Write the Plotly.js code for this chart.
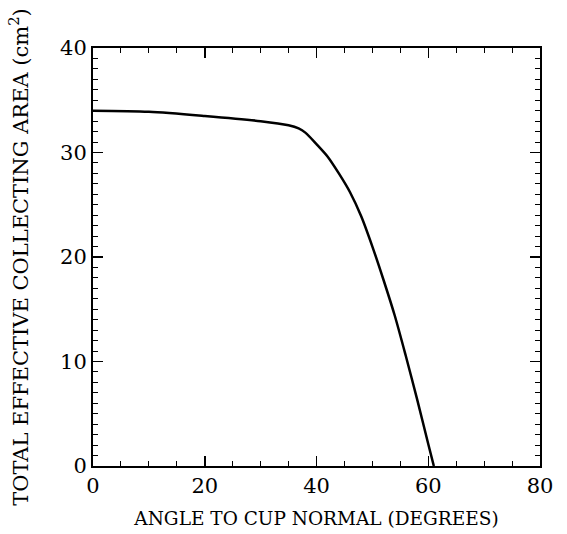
<!DOCTYPE html>
<html>
<head>
<meta charset="utf-8">
<script src="https://cdn.plot.ly/plotly-3.0.1.min.js"></script>
<style>html,body{margin:0;padding:0;background:#fff;}#chart{width:567px;height:534px;}</style>
</head>
<body>
<div id="chart"></div>
<script>
const angleDeg = [0, 10, 20, 30, 35, 36.8, 38, 40, 42, 44, 46, 48, 50, 52, 54, 56, 58, 60, 61.0];
const areaCm2  = [34.0, 33.9, 33.5, 33.0, 32.6, 32.3, 31.9, 30.8, 29.6, 28.0, 26.2, 23.9, 21.0, 17.8, 14.4, 10.5, 6.4, 2.1, 0.0];
const xTickVals = [0, 20, 40, 60, 80];
const yTickVals = [0, 10, 20, 30, 40];
const xTitle = 'ANGLE TO CUP NORMAL (DEGREES)';
const yTitle = 'TOTAL EFFECTIVE COLLECTING AREA (cm<sup>2</sup>)';

const font = 'DejaVu Serif, Liberation Serif, serif';
const axisCommon = {
  showgrid: false, zeroline: false, showline: true, linecolor: '#000', linewidth: 2,
  mirror: 'allticks', ticks: 'inside', ticklen: 10, tickwidth: 1.5, tickcolor: '#000',
  tickfont: {family: font, size: 21, color: '#000'}, fixedrange: true
};
Plotly.newPlot('chart', [{
  x: angleDeg, y: areaCm2, type: 'scatter', mode: 'lines',
  line: {color: '#000', width: 2.5, shape: 'spline', smoothing: 0.8},
  hoverinfo: 'skip'
}], {
  width: 567, height: 534,
  margin: {l: 93, r: 27, t: 48, b: 68},
  paper_bgcolor: '#fff', plot_bgcolor: '#fff',
  showlegend: false,
  xaxis: Object.assign({}, axisCommon, {
    range: [0, 80], tickvals: xTickVals,
    minor: {dtick: 5, ticklen: 5, tickwidth: 1, tickcolor: '#000', ticks: 'inside'},
    title: {text: xTitle, font: {family: font, size: 18.5, color: '#000'}, standoff: 15}
  }),
  yaxis: Object.assign({}, axisCommon, {
    range: [0, 40], tickvals: yTickVals,
    minor: {dtick: 1, ticklen: 5, tickwidth: 1, tickcolor: '#000', ticks: 'inside'},
    title: {text: yTitle, font: {family: font, size: 21, color: '#000'}, standoff: 26}
  })
}, {displayModeBar: false, staticPlot: true});
</script>
</body>
</html>
